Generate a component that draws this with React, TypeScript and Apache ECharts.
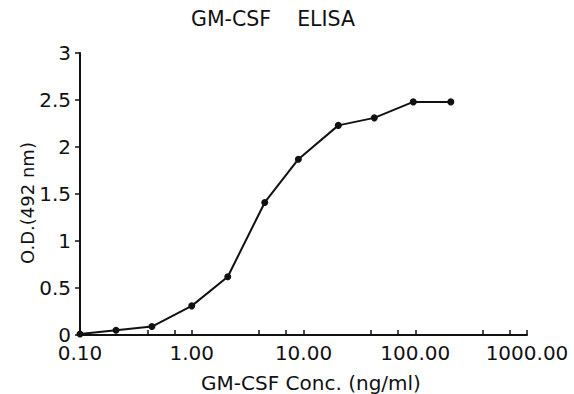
import React, { useEffect, useRef } from "react";
import * as echarts from "echarts";

const titleText = "GM-CSF    ELISA";
const xAxisName = "GM-CSF Conc. (ng/ml)";
const yAxisName = "O.D.(492 nm)";
const concentrations = [0.1, 0.21, 0.44, 1, 2.1, 4.5, 9, 20.5, 43, 96, 208];
const odValues = [0.01, 0.05, 0.09, 0.31, 0.62, 1.41, 1.87, 2.23, 2.31, 2.48, 2.48];
const xMin = 0.1;
const xMax = 1000;
const yTicks = [0, 0.5, 1, 1.5, 2, 2.5, 3];
const ticksPerDecade = 3;

const FONT = "DejaVu Sans";

export default function App() {
  const ref = useRef<HTMLDivElement>(null);
  useEffect(() => {
    if (!ref.current) return;
    const chart = echarts.init(ref.current, undefined, { renderer: "svg" });
    chart.setOption({
      animation: false,
      backgroundColor: "#ffffff",
      title: {
        text: titleText,
        left: 191,
        top: 8,
        padding: 0,
        textStyle: { fontFamily: FONT, fontSize: 20.5, fontWeight: "normal", color: "#111" },
      },
      grid: { left: 80, right: 47, top: 53, bottom: 59, outerBoundsMode: "none", containLabel: false },
      xAxis: {
        type: "log",
        logBase: 10,
        min: xMin,
        max: xMax,
        name: xAxisName,
        nameLocation: "middle",
        nameGap: 38,
        nameTextStyle: { fontFamily: FONT, fontSize: 20, color: "#111", padding: [0, 0, 0, 15] },
        axisLine: { show: true, lineStyle: { color: "#111", width: 2 } },
        axisTick: { show: true, inside: true, length: 5, lineStyle: { color: "#111", width: 1.5 } },
        minorTick: { show: true, splitNumber: ticksPerDecade, length: 5, lineStyle: { color: "#111", width: 1.5 } },
        splitLine: { show: false },
        axisLabel: {
          fontFamily: FONT,
          fontSize: 20,
          color: "#111",
          margin: 8,
          formatter: (v: number) => v.toFixed(2),
        },
      },
      yAxis: {
        type: "value",
        min: 0,
        max: 3,
        interval: 0.5,
        name: yAxisName,
        nameLocation: "middle",
        nameMoveOverlap: false,
        nameGap: 44,
        nameTextStyle: { fontFamily: FONT, fontSize: 18, color: "#111", padding: [0, 18, 0, 0] },
        axisLine: { show: true, lineStyle: { color: "#111", width: 2 } },
        axisTick: { show: true, inside: false, length: 5, lineStyle: { color: "#111", width: 1.5 } },
        splitLine: { show: false },
        axisLabel: {
          fontFamily: FONT,
          fontSize: 20,
          color: "#111",
          margin: 9,
          formatter: (v: number) => (yTicks.includes(v) ? String(v) : ""),
        },
      },
      series: [
        {
          type: "line",
          data: concentrations.map((c, i) => [c, odValues[i]]),
          symbol: "circle",
          symbolSize: 7,
          lineStyle: { color: "#111", width: 2 },
          itemStyle: { color: "#111" },
        },
      ],
    });
    return () => chart.dispose();
  }, []);
  return <div ref={ref} style={{ width: 574, height: 394, position: "absolute", left: 0, top: 0 }} />;
}
